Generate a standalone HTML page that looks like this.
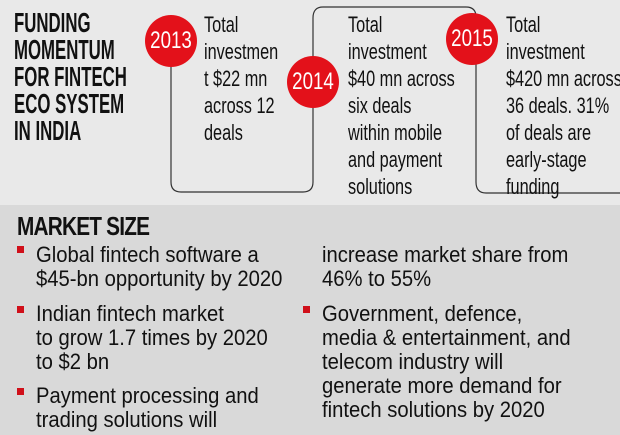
<!DOCTYPE html>
<html><head><style>
body{margin:0;width:620px;height:435px;overflow:hidden;font-family:"Liberation Sans",sans-serif;}
.top{position:absolute;left:0;top:0;width:620px;height:205px;background:#e9e9e9;}
.bot{position:absolute;left:0;top:205px;width:620px;height:230px;background:#d9d9d9;}
.t{position:absolute;white-space:nowrap;color:#111;transform-origin:0 0;}
.title{font-weight:bold;font-size:28px;line-height:27px;left:14px;top:9px;transform:scaleX(0.6);}
.b{font-size:22px;line-height:27px;transform:scaleX(0.74);}
.c{position:absolute;width:52px;height:52px;border-radius:50%;background:#e3111a;}
.c span{position:absolute;left:-4px;top:0;width:60px;line-height:52px;text-align:center;color:#fff;font-size:24px;transform:scaleX(0.78);transform-origin:30px 0;}
.l{font-size:22px;line-height:24px;transform:scaleX(0.92);}
.sq{position:absolute;width:7px;height:7px;background:#d0101a;}
</style></head><body>
<div class="top"></div>
<div class="bot"></div>
<svg style="position:absolute;left:0;top:0" width="620" height="205">
<g fill="none" stroke="#333" stroke-width="1.2">
<path d="M171 60 V182 Q171 192 181 192 H303 Q313 192 313 182 V18 Q313 7 323 7 H466 Q476 7 476 17 V60"/>
<path d="M476 60 V182 Q476 193 486 193 H620"/>
</g></svg>
<div class="t title">FUNDING<br>MOMENTUM<br>FOR FINTECH<br>ECO SYSTEM<br>IN INDIA</div>
<div class="c" style="left:145px;top:15px"><span>2013</span></div>
<div class="c" style="left:287px;top:56px"><span>2014</span></div>
<div class="c" style="left:446px;top:13px"><span>2015</span></div>
<div class="t b" style="left:204px;top:11px">Total<br>investmen<br>t $22 mn<br>across 12<br>deals</div>
<div class="t b" style="left:348px;top:11px">Total<br>investment<br>$40 mn across<br>six deals<br>within mobile<br>and payment<br>solutions</div>
<div class="t b" style="left:506px;top:11px">Total<br>investment<br>$420 mn across<br>36 deals. 31%<br>of deals are<br>early-stage<br>funding</div>
<div class="t" style="left:17px;top:211px;font-size:26px;font-weight:bold;letter-spacing:-1px;transform:scaleX(0.8)">MARKET SIZE</div>
<div class="sq" style="left:17px;top:246px"></div>
<div class="sq" style="left:17px;top:306px"></div>
<div class="sq" style="left:17px;top:388px"></div>
<div class="sq" style="left:303px;top:306px"></div>
<div class="t l" style="left:36px;top:243px">Global fintech software a<br>$45-bn opportunity by 2020</div>
<div class="t l" style="left:36px;top:302px">Indian fintech market<br>to grow 1.7 times by 2020<br>to $2 bn</div>
<div class="t l" style="left:36px;top:384px">Payment processing and<br>trading solutions will</div>
<div class="t l" style="left:322px;top:243px">increase market share from<br>46% to 55%</div>
<div class="t l" style="left:322px;top:302px">Government, defence,<br>media &amp; entertainment, and<br>telecom industry will<br>generate more demand for<br>fintech solutions by 2020</div>
</body></html>
